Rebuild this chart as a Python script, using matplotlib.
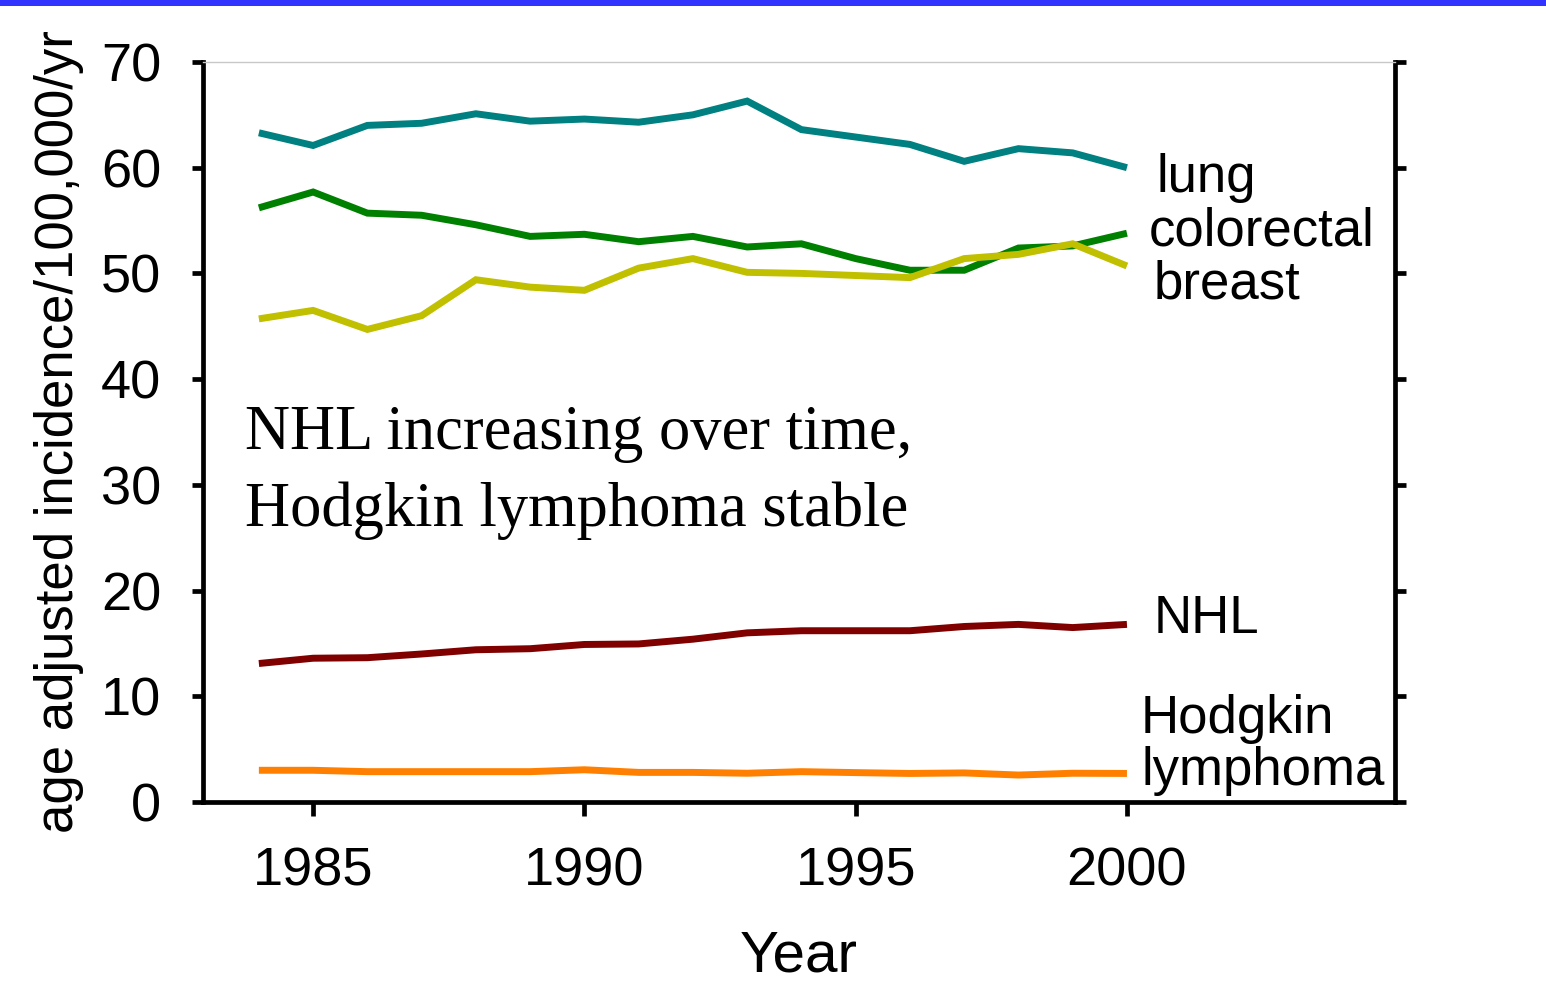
import matplotlib
matplotlib.use("Agg")
import matplotlib.pyplot as plt
from matplotlib.patches import Rectangle

# Age-adjusted incidence per 100,000 per year
years = list(range(1984, 2001))
lung = [63.3, 62.1, 64.0, 64.2, 65.1, 64.4, 64.6, 64.3, 65.0, 66.3,
        63.6, 62.9, 62.2, 60.6, 61.8, 61.4, 60.0]
colorectal = [56.2, 57.7, 55.7, 55.5, 54.6, 53.5, 53.7, 53.0, 53.5, 52.5,
              52.8, 51.4, 50.3, 50.3, 52.4, 52.6, 53.8]
breast = [45.7, 46.5, 44.7, 46.0, 49.4, 48.7, 48.4, 50.5, 51.4, 50.1,
          50.0, 49.8, 49.6, 51.4, 51.8, 52.8, 50.7]
nhl = [13.1, 13.6, 13.65, 14.0, 14.4, 14.5, 14.9, 14.95, 15.4, 16.0,
       16.2, 16.2, 16.2, 16.6, 16.8, 16.5, 16.8]
hodgkin = [3.0, 3.0, 2.87, 2.87, 2.87, 2.87, 3.05, 2.8, 2.8, 2.72,
           2.87, 2.78, 2.7, 2.75, 2.55, 2.72, 2.7]

series = [
    (lung, "#008080"),
    (colorectal, "#008000"),
    (breast, "#C0C000"),
    (nhl, "#800000"),
    (hodgkin, "#FF8000"),
]

# Labels at the right end of each line: (text, x, baseline y)
end_labels = [
    ("lung", 2000.54, 57.7),
    ("colorectal", 2000.41, 52.6),
    ("breast", 2000.50, 47.6),
    ("NHL", 2000.50, 16.0),
    ("Hodgkin", 2000.26, 6.5),
    ("lymphoma", 2000.26, 1.6),
]

x_ticks = [1985, 1990, 1995, 2000]
y_ticks = [0, 10, 20, 30, 40, 50, 60, 70]

plt.rcParams["font.family"] = ["Liberation Sans", "DejaVu Sans"]

fig = plt.figure(figsize=(15.46, 9.82), dpi=100)
ax = fig.add_axes([0.1313, 0.1833, 0.7710, 0.7536])

for values, color in series:
    ax.plot(years, values, color=color, lw=5.0, solid_joinstyle="miter",
            solid_capstyle="butt")

for text, x, y in end_labels:
    ax.text(x, y, text, fontsize=38, ha="left", va="baseline", color="black")

serif = ["Liberation Serif", "DejaVu Serif"]
ax.text(1983.74, 33.4, "NHL increasing over time,", fontsize=45,
        family=serif, ha="left", va="baseline")
ax.text(1983.74, 26.1, "Hodgkin lymphoma stable", fontsize=45,
        family=serif, ha="left", va="baseline")

ax.set_xlim(1982.97, 2004.94)
ax.set_ylim(0, 70)
ax.set_xticks(x_ticks)
ax.set_yticks(y_ticks)

ax.tick_params(axis="x", direction="out", length=10, width=3.4,
               labelsize=39, pad=22, top=False)
ax.tick_params(axis="y", direction="out", length=8, width=3.4,
               labelsize=39, pad=22, left=True, right=True)

for side in ("left", "right", "bottom"):
    ax.spines[side].set_linewidth(3.4)
    ax.spines[side].set_color("black")
ax.spines["top"].set_linewidth(1.0)
ax.spines["top"].set_color("#c8c8c8")

ax.set_xlabel("Year", fontsize=42, labelpad=24)
ax.set_ylabel("age adjusted incidence/100,000/yr", fontsize=38, labelpad=12)

# Blue rule across the top of the figure
fig.patches.append(Rectangle((0, 1 - 6 / 982), 1, 6 / 982,
                             transform=fig.transFigure,
                             facecolor="#3333FF", edgecolor="none"))

fig.savefig("out.png", dpi=100)
